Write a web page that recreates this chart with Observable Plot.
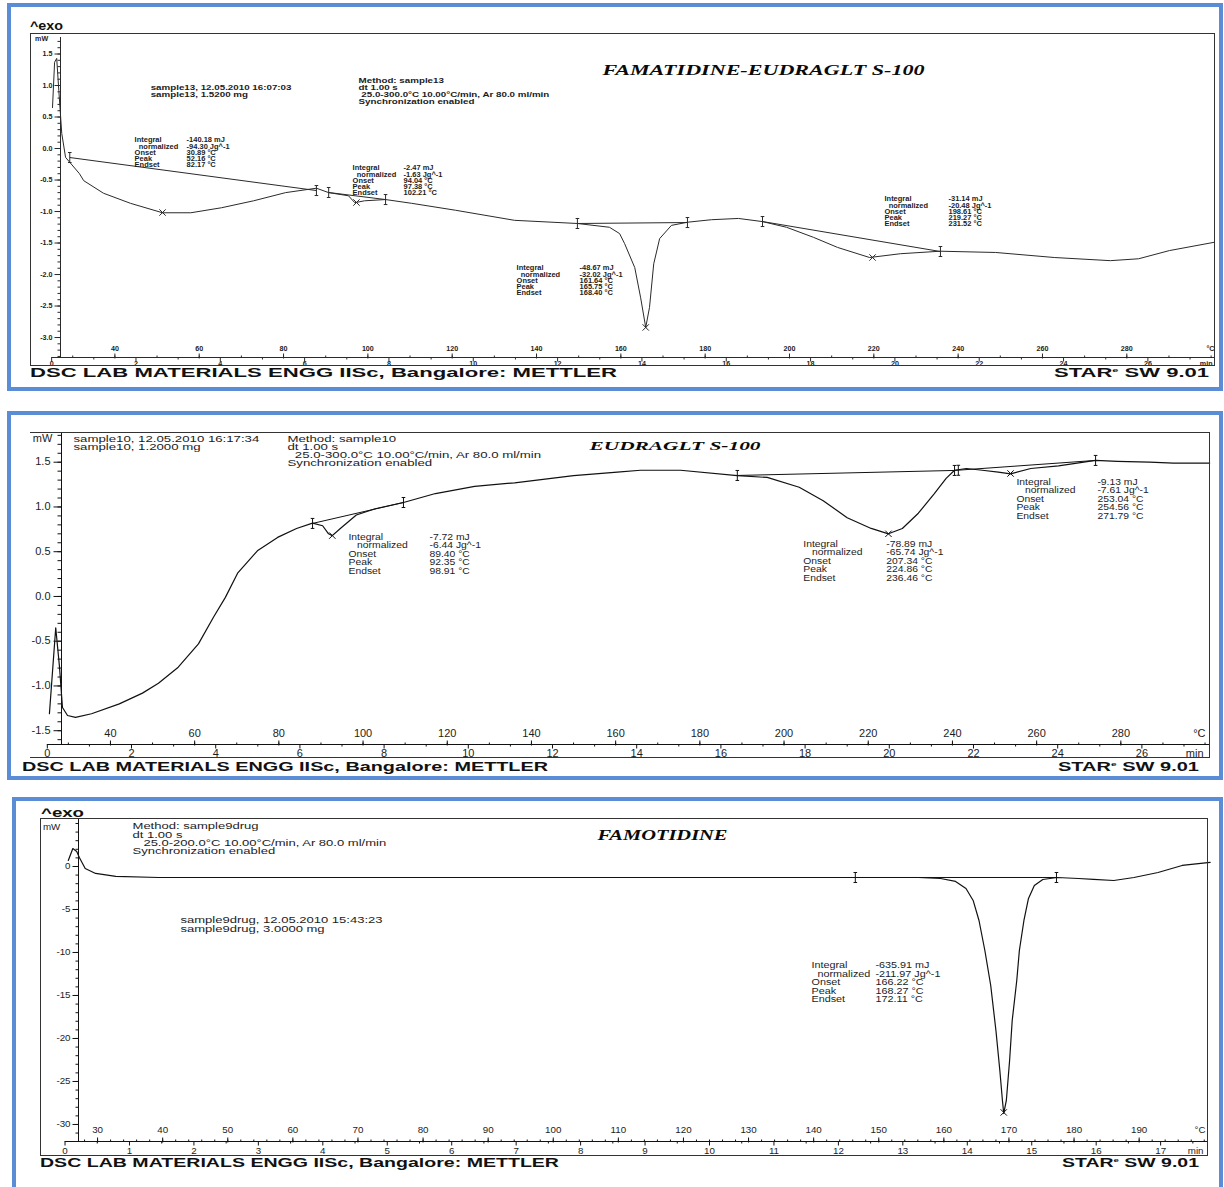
<!DOCTYPE html>
<html>
<head>
<meta charset="utf-8">
<script src="https://cdn.jsdelivr.net/npm/d3@7"></script>
<script src="https://cdn.jsdelivr.net/npm/@observablehq/plot@0.6"></script>
<style>
  html, body { margin: 0; padding: 0; background: #fff; }
  body { position: relative; width: 1224px; height: 1187px; overflow: hidden; font-family: "Liberation Sans", Arial, sans-serif; }
  .panel { position: absolute; border: 4px solid #5a8dd5; box-sizing: border-box; z-index: 3; }
  .frame { position: absolute; border: 1px solid #333; box-sizing: border-box; z-index: 2; }
  .chart { position: absolute; left: 0; z-index: 1; }
  .lab { position: absolute; white-space: nowrap; font-weight: bold; color: #111; transform-origin: 0 50%; line-height: 1; z-index: 2; }
</style>
</head>
<body>
<script>
// ======================= DATA =======================
// Panel 1 : FAMATIDINE-EUDRAGLT S-100  (temperature °C -> heat flow mW)
const p1Temp = [25.2,25.7,26.2,26.7,27.4,28.3,31.6,32.6,37.3,43.7,51.3,58.0,65.3,72.9,80.5,87.8,90.7,95.4,96.9,99.2,104.2,110.4,120.8,134.8,149.7,157.3,159.7,160.9,163.3,164.7,165.9,166.8,167.8,169.2,172.0,175.8,181.5,187.9,193.6,199.3,205.7,211.4,219.0,226.3,235.8,248.9,262.8,276.1,282.8,290.1,300.6];
const p1Heat = [0.65,1.37,1.43,0.92,0.24,-0.14,-0.40,-0.51,-0.71,-0.87,-1.02,-1.02,-0.94,-0.83,-0.70,-0.63,-0.70,-0.75,-0.86,-0.83,-0.81,-0.87,-0.98,-1.14,-1.19,-1.25,-1.35,-1.51,-1.89,-2.37,-2.84,-2.52,-1.83,-1.43,-1.22,-1.17,-1.13,-1.11,-1.16,-1.25,-1.41,-1.57,-1.73,-1.67,-1.63,-1.65,-1.73,-1.78,-1.75,-1.62,-1.49];
const p1Baselines = [[29.3,-0.143,87.8,-0.667],[90.7,-0.698,104.2,-0.81],[149.7,-1.19,175.8,-1.175],[193.6,-1.159,235.8,-1.635]];
const p1Limits = [[29.3,-0.143],[87.8,-0.667],[90.7,-0.698],[104.2,-0.81],[149.7,-1.19],[175.8,-1.175],[193.6,-1.159],[235.8,-1.635]];
const p1Peaks = [[51.3,-1.016],[97.3,-0.857],[165.9,-2.84],[219.7,-1.73]];
const p1Title = "FAMATIDINE-EUDRAGLT S-100";
const p1Info = ["sample13, 12.05.2010 16:07:03", "sample13, 1.5200 mg"];
const p1Method = ["Method: sample13", "dt 1.00 s", "\u00a025.0-300.0°C 10.00°C/min, Ar 80.0 ml/min", "Synchronization enabled"];
const p1Values = [
  ["-140.18 mJ", "-94.30 Jg^-1", "30.89 °C", "52.16 °C", "82.17 °C"],
  ["-2.47 mJ", "-1.63 Jg^-1", "94.04 °C", "97.38 °C", "102.21 °C"],
  ["-48.67 mJ", "-32.02 Jg^-1", "161.64 °C", "165.75 °C", "168.40 °C"],
  ["-31.14 mJ", "-20.48 Jg^-1", "198.61 °C", "219.27 °C", "231.52 °C"]
];
const p1YLabels = [1.5, 1.0, 0.5, 0.0, -0.5, -1.0, -1.5, -2.0, -2.5, -3.0];

// Panel 2 : EUDRAGLT S-100
const p2Temp = [25.5,27.0,27.9,28.6,29.8,31.7,35.5,42.1,47.6,51.4,56.1,60.9,64.5,67.3,70.2,74.9,79.7,84.2,88.0,90.4,91.8,92.7,94.6,98.4,102.9,109.6,117.2,126.5,136.0,150.0,160.4,165.9,175.4,188.9,196.0,203.6,209.3,215.0,220.7,224.8,228.1,231.9,235.7,238.5,240.5,243.3,247.1,250.9,253.8,258.6,265.2,274.0,279.2,286.8,292.5,301.1];
const p2Heat = [-1.31,-0.35,-0.79,-1.24,-1.33,-1.35,-1.31,-1.20,-1.08,-0.97,-0.79,-0.53,-0.23,-0.01,0.26,0.51,0.66,0.76,0.82,0.79,0.70,0.68,0.76,0.91,0.98,1.05,1.15,1.23,1.27,1.35,1.39,1.41,1.41,1.35,1.33,1.22,1.07,0.88,0.76,0.70,0.76,0.93,1.15,1.32,1.41,1.43,1.41,1.39,1.37,1.43,1.46,1.52,1.51,1.50,1.49,1.49];
const p2Baselines = [[88.0,0.816,109.6,1.05],[188.9,1.352,240.5,1.408],[240.5,1.408,274.0,1.52]];
const p2Limits = [[88.0,0.816],[109.6,1.05],[188.9,1.352],[240.5,1.408],[241.4,1.41],[274.0,1.52]];
const p2Peaks = [[92.7,0.68],[224.8,0.70],[253.8,1.374]];
const p2Title = "EUDRAGLT S-100";
const p2Info = ["sample10, 12.05.2010 16:17:34", "sample10, 1.2000 mg"];
const p2Method = ["Method: sample10", "dt 1.00 s", "\u00a0\u00a025.0-300.0°C 10.00°C/min, Ar 80.0 ml/min", "Synchronization enabled"];
const p2Values = [
  ["-7.72 mJ", "-6.44 Jg^-1", "89.40 °C", "92.35 °C", "98.91 °C"],
  ["-78.89 mJ", "-65.74 Jg^-1", "207.34 °C", "224.86 °C", "236.46 °C"],
  ["-9.13 mJ", "-7.61 Jg^-1", "253.04 °C", "254.56 °C", "271.79 °C"]
];
const p2YLabels = [1.5, 1.0, 0.5, 0.0, -0.5, -1.0, -1.5];

// Panel 3 : FAMOTIDINE
const p3Temp = [25.5,26.2,26.8,27.2,28.1,29.7,32.8,39.4,51.5,76.5,107.2,138.0,156.1,159.5,161.8,163.4,164.5,165.4,166.3,167.2,168.0,168.6,169.0,169.2,169.6,170.1,170.5,171.2,171.6,172.3,173.0,173.9,175.2,177.4,180.7,183.0,186.1,189.2,192.9,196.6,200.9];
const p3Heat = [0.7,2.09,1.74,1.05,-0.23,-0.81,-1.16,-1.28,-1.28,-1.28,-1.28,-1.28,-1.28,-1.40,-1.74,-2.56,-3.95,-6.28,-9.77,-13.84,-19.07,-23.72,-27.21,-28.72,-27.21,-22.56,-17.91,-13.26,-9.77,-6.28,-3.72,-2.21,-1.51,-1.28,-1.40,-1.51,-1.63,-1.28,-0.70,0.12,0.47];
const p3Baselines = [[146.4,-1.28,177.3,-1.28]];
const p3Limits = [[146.4,-1.28],[177.3,-1.28]];
const p3Peaks = [[169.2,-28.6]];
const p3Title = "FAMOTIDINE";
const p3Info = ["sample9drug, 12.05.2010 15:43:23", "sample9drug, 3.0000 mg"];
const p3Method = ["Method: sample9drug", "dt 1.00 s", "\u00a0\u00a0\u00a025.0-200.0°C 10.00°C/min, Ar 80.0 ml/min", "Synchronization enabled"];
const p3Values = [
  ["-635.91 mJ", "-211.97 Jg^-1", "166.22 °C", "168.27 °C", "172.11 °C"]
];
const p3YLabels = [0, -5, -10, -15, -20, -25, -30];

// Shared tick labels and note labels
const noteLabels = ["Integral", "normalized", "Onset", "Peak", "Endset"];
const wideTempLabels = [40, 60, 80, 100, 120, 140, 160, 180, 200, 220, 240, 260, 280];
const wideMinLabels = [0, 2, 4, 6, 8, 10, 12, 14, 16, 18, 20, 22, 24, 26];
const p3TempLabels = [30, 40, 50, 60, 70, 80, 90, 100, 110, 120, 130, 140, 150, 160, 170, 180, 190];
const p3MinLabels = [0, 1, 2, 3, 4, 5, 6, 7, 8, 9, 10, 11, 12, 13, 14, 15, 16, 17];

// ======================= RENDERING =======================
const COL = {tick: "#1c1c1c", head: "#1c1c1d", block: "#1c1c1e", title: "#0a0a0a"};
const hTick = len => ({draw(ctx) { ctx.moveTo(-len, 0); ctx.lineTo(0, 0); }});
const vTick = (up, down) => ({draw(ctx) { ctx.moveTo(0, -up); ctx.lineTo(0, down); }});
const ibeam = {draw(ctx) { ctx.moveTo(-1.8, -5); ctx.lineTo(1.8, -5); ctx.moveTo(0, -5); ctx.lineTo(0, 5); ctx.moveTo(-1.8, 5); ctx.lineTo(1.8, 5); }};

function stretch(svg, fill, sx) {
  svg.querySelectorAll(`g[fill="${fill}"] text`).forEach(t => {
    const tr = t.getAttribute("transform");
    if (tr !== null) t.setAttribute("transform", tr + ` scale(${sx},1)`);
  });
}

function buildPanel(p) {
  const L = p.layout;
  const [x0, x1] = L.x, [y0] = L.y;
  const toT = m => 25 + p.minRate * m;
  const ink = p.ink, f = p.font, P = p.place;
  const tickText = {fill: COL.tick, fontSize: f.tick, fontWeight: f.weight, lineAnchor: "middle"};
  const symb = (data, x, y, symbol, extra = {}) => Plot.dot(data, {x, y, symbol, stroke: ink, fill: "none", strokeWidth: 1, ...extra});
  const marks = [
    Plot.ruleX([x0], {stroke: ink, strokeWidth: 1}),
    Plot.ruleY([y0], {x1: () => 25, x2: () => x1, stroke: ink, strokeWidth: 1}),
    symb(p.yMinor, () => x0, d => d, hTick(p.tick.yMinor)),
    symb(p.yLabels, () => x0, d => d, hTick(p.tick.yMajor)),
    Plot.text(p.yLabels, {x: () => x0, y: d => d, text: p.yFormat, textAnchor: "end", dx: p.tick.yDx, ...tickText}),
    symb(p.tempMinor, d => d, () => y0, vTick(2, 0)),
    symb(p.tempLabels, d => d, () => y0, vTick(4, 1)),
    Plot.text(p.tempLabels, {x: d => d, y: () => y0, dy: p.tick.tDy, text: d => String(d), ...tickText}),
    Plot.text(["°C"], {frameAnchor: "bottom-right", dy: p.tick.tDy, dx: p.tick.unitDx, textAnchor: "end", text: d => d, ...tickText}),
    symb(p.minMinor, d => toT(d), () => y0, vTick(0, 2)),
    symb(p.minLabels, d => toT(d), () => y0, vTick(0, 4)),
    Plot.text(p.minLabels, {x: d => toT(d), y: () => y0, dy: p.tick.mDy, text: d => String(d), ...tickText}),
    Plot.text(["min"], {frameAnchor: "bottom-right", dy: p.tick.mDy, dx: p.tick.unitDx - 2, textAnchor: "end", text: d => d, ...tickText}),
    Plot.text(["mW"], {x: () => P.mw[0], y: () => P.mw[1], text: d => d, ...tickText}),
    Plot.link(p.baselines, {x1: d => d[0], y1: d => d[1], x2: d => d[2], y2: d => d[3], stroke: ink, strokeWidth: 1}),
    Plot.line(d3.range(p.temp.length), {x: i => p.temp[i], y: i => p.heat[i], stroke: ink, strokeWidth: p.lineWidth}),
    symb(p.limits, d => d[0], d => d[1], ibeam),
    symb(p.peaks, d => d[0], d => d[1], "times", {r: 3}),
    Plot.text([p.info.join("\n")], {x: () => P.info[0], y: () => P.info[1], text: d => d, textAnchor: "start", lineAnchor: "top", lineHeight: f.headLH, fontSize: f.head, fontWeight: f.weight, fill: COL.head}),
    Plot.text([p.method.join("\n")], {x: () => P.method[0], y: () => P.method[1], text: d => d, textAnchor: "start", lineAnchor: "top", lineHeight: f.headLH, fontSize: f.head, fontWeight: f.weight, fill: COL.head}),
    Plot.text([p.title], {x: () => P.title[0], y: () => P.title[1], text: d => d, textAnchor: "start", lineAnchor: "middle", fontFamily: "'Liberation Serif', 'Times New Roman', serif", fontStyle: "italic", fontWeight: "bold", fontSize: f.title, fill: COL.title})
  ];
  p.values.forEach((vals, k) => {
    const [tl, tv, v] = P.blocks[k];
    const labels = noteLabels.map((s, i) => i === 1 ? "\u00a0".repeat(p.indent) + s : s);
    const common = {y: () => v, text: d => d, textAnchor: "start", lineAnchor: "top", lineHeight: f.blockLH, fontSize: f.block, fontWeight: f.weight, fill: COL.block};
    marks.push(Plot.text([labels.join("\n")], {x: () => tl, ...common}));
    marks.push(Plot.text([vals.join("\n")], {x: () => tv, ...common}));
  });
  const svg = Plot.plot({
    width: 1224, height: L.height,
    marginLeft: L.ml, marginRight: L.mr, marginTop: 0, marginBottom: L.mb,
    x: {type: "linear", domain: L.x, axis: null},
    y: {type: "linear", domain: L.y, axis: null},
    style: {background: "transparent", overflow: "visible", fontFamily: "'Liberation Sans', Arial, sans-serif", color: ink},
    marks
  });
  const wrap = document.createElement("div");
  wrap.className = "chart";
  wrap.style.top = L.top + "px";
  wrap.appendChild(svg);
  document.body.appendChild(wrap);
  stretch(svg, COL.tick, p.sx.tick);
  stretch(svg, COL.head, p.sx.head);
  stretch(svg, COL.block, p.sx.block);
  svg.querySelectorAll(`g[fill="${COL.title}"] text`).forEach(t => {
    t.setAttribute("textLength", p.titleWidth);
    t.setAttribute("lengthAdjust", "spacingAndGlyphs");
  });
}

function box(cls, left, top, right, bottom, extra = {}) {
  const el = document.createElement("div");
  el.className = cls;
  Object.assign(el.style, {left: left + "px", top: top + "px", width: (right - left) + "px", height: (bottom - top) + "px"}, extra);
  document.body.appendChild(el);
}

function label(html, left, cy, width, size) {
  const el = document.createElement("div");
  el.className = "lab";
  el.innerHTML = html;
  el.style.fontSize = size + "px";
  el.style.left = left + "px";
  document.body.appendChild(el);
  const r = el.getBoundingClientRect();
  el.style.top = (cy - r.height / 2) + "px";
  el.style.transform = `scaleX(${width / r.width})`;
}

const FOOT = "DSC LAB MATERIALS ENGG IISc, Bangalore: METTLER";
const STAR = "STAR<sup style='font-size:0.5em;vertical-align:0.8em'>e</sup> SW 9.01";

// panel borders & frames
box("panel", 7, 3, 1223, 391);
box("panel", 7, 411, 1223, 780);
box("panel", 12, 797, 1223, 1200);
box("frame", 30, 33, 1215, 366);
box("frame", 30, 432, 1210, 758, {borderLeft: "none"});
box("frame", 40, 818, 1208, 1156);

buildPanel({
  temp: p1Temp, heat: p1Heat, baselines: p1Baselines, limits: p1Limits, peaks: p1Peaks,
  title: p1Title, info: p1Info, method: p1Method, values: p1Values,
  yLabels: p1YLabels, yMinor: d3.range(1.7, -3.31, -0.1), yFormat: d => d.toFixed(1),
  tempLabels: [...wideTempLabels], tempMinor: d3.range(30, 301, 10),
  minLabels: wideMinLabels, minMinor: d3.range(1, 28, 2), minRate: 10,
  ink: "#2a2a2a", lineWidth: 1, indent: 2, titleWidth: 322,
  layout: {top: 37, height: 336, ml: 60, mr: 10, mb: 16, x: [27.1, 300.8], y: [-3.317, 1.762]},
  tick: {yMajor: 6, yMinor: 3, yDx: -8, tDy: -9, mDy: 6, unitDx: 0},
  font: {tick: 6.5, head: 7, block: 6.5, title: 15, weight: "bold", headLH: 1.0, blockLH: 0.95},
  sx: {tick: 1.1, head: 1.4, block: 1.15},
  place: {mw: [22.63, 1.746], info: [48.48, 1.008], method: [97.8, 1.119], title: [155.66, 1.238],
          blocks: [[44.68, 57.01, 0.167], [96.38, 108.47, -0.278], [135.27, 150.21, -1.865], [222.53, 237.71, -0.770]]}
});

buildPanel({
  temp: p2Temp, heat: p2Heat, baselines: p2Baselines, limits: p2Limits, peaks: p2Peaks,
  title: p2Title, info: p2Info, method: p2Method, values: p2Values,
  yLabels: p2YLabels, yMinor: d3.range(1.8, -1.61, -0.1), yFormat: d => d.toFixed(1),
  tempLabels: [...wideTempLabels], tempMinor: d3.range(30, 301, 10),
  minLabels: wideMinLabels, minMinor: d3.range(1, 28, 2), minRate: 10,
  ink: "#111", lineWidth: 1.2, indent: 3, titleWidth: 171,
  layout: {top: 432, height: 328, ml: 61, mr: 15, mb: 16, x: [28.37, 301.06], y: [-1.654, 1.832]},
  tick: {yMajor: 8, yMinor: 4, yDx: -11, tDy: -11, mDy: 9, unitDx: -4},
  font: {tick: 10, head: 9, block: 9, title: 13, weight: "normal", headLH: 0.86, blockLH: 0.94},
  sx: {tick: 1.1, head: 1.47, block: 1.15},
  place: {mw: [23.86, 1.765], info: [31.22, 1.782], method: [82.05, 1.782], title: [153.79, 1.687],
          blocks: [[96.54, 115.78, 0.698], [204.57, 224.28, 0.620], [255.19, 274.43, 1.313]]}
});

buildPanel({
  temp: p3Temp, heat: p3Heat, baselines: p3Baselines, limits: p3Limits, peaks: p3Peaks,
  title: p3Title, info: p3Info, method: p3Method, values: p3Values,
  yLabels: p3YLabels, yMinor: d3.range(5, -32, -1), yFormat: d => String(d),
  tempLabels: p3TempLabels, tempMinor: d3.range(28, 201, 2),
  minLabels: p3MinLabels, minMinor: d3.range(0.5, 17.6, 1), minRate: 9.9,
  ink: "#111", lineWidth: 1.2, indent: 2, titleWidth: 130,
  layout: {top: 818, height: 339, ml: 78, mr: 17, mb: 16, x: [27.07, 200.5], y: [-31.98, 5.58]},
  tick: {yMajor: 6, yMinor: 3, yDx: -8, tDy: -11, mDy: 10, unitDx: -2},
  font: {tick: 8.5, head: 9, block: 9, title: 14, weight: "normal", headLH: 0.92, blockLH: 0.94},
  sx: {tick: 1.15, head: 1.45, block: 1.2},
  place: {mw: [22.93, 4.53], info: [42.74, -5.93], method: [35.37, 5.0], title: [106.8, 3.6],
          blocks: [[139.67, 149.5, -11.16]]}
});

// exo markers and footers
label("^exo", 30, 25, 33, 13);
label("^exo", 41, 812, 43, 13);
label(FOOT, 30, 373, 587, 12.5);
label(STAR, 1054, 373, 155, 12.5);
label(FOOT, 22, 767, 526, 12.5);
label(STAR, 1058, 767, 141, 12.5);
label(FOOT, 40, 1163, 519, 12.5);
label(STAR, 1062, 1163, 137, 12.5);
</script>
</body>
</html>
